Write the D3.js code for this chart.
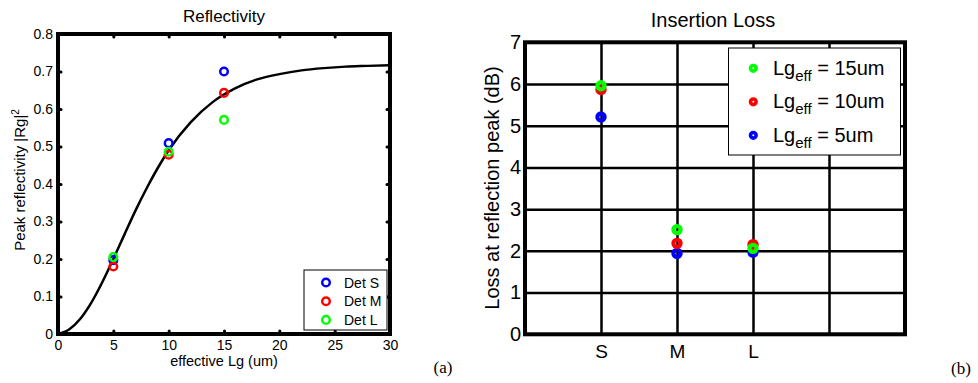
<!DOCTYPE html>
<html>
<head>
<meta charset="utf-8">
<script src="https://cdn.jsdelivr.net/npm/d3@7"></script>
<style>
  body { margin: 0; background: #fff; }
  svg { display: block; font-family: "Liberation Sans", Arial, sans-serif; }
</style>
</head>
<body>
<div id="chart"></div>
<script>
/// DATA: REFLECTIVITY (a) ///
const lgValues = [5, 10, 15];
const detS = [0.197, 0.509, 0.700];
const detM = [0.180, 0.478, 0.643];
const detL = [0.205, 0.486, 0.571];
const reflSeries = ["Det S", "Det M", "Det L"];
const reflColors = ["#0000ff", "#ff0000", "#00ff00"];

// black curve
const curveLg = [0, 1, 2, 3, 4, 5, 6, 7, 8, 9, 10, 12, 14, 16, 18, 20, 22, 24, 26, 28, 30];
const curveR = [0, 0.012, 0.040, 0.083, 0.138, 0.200, 0.265, 0.329, 0.388, 0.442, 0.490,
  0.565, 0.619, 0.655, 0.679, 0.693, 0.703, 0.709, 0.713, 0.715, 0.717];

const reflXTicks = [0, 5, 10, 15, 20, 25, 30];
const reflYTicks = [0, 0.1, 0.2, 0.3, 0.4, 0.5, 0.6, 0.7, 0.8];

/// DATA: INSERTION LOSS (b) ///
const detectors = ["S", "M", "L"];
const loss5 = [5.21, 1.94, 1.97];
const loss10 = [5.87, 2.18, 2.15];
const loss15 = [5.96, 2.51, 2.06];
const lossLegend = ["15um", "10um", "5um"];
const lossYTicks = [0, 1, 2, 3, 4, 5, 6, 7];

const width = 978;
const height = 383;

const svg = d3
  .select("#chart")
  .append("svg")
  .attr("width", width)
  .attr("height", height);

// ---------- (a) Reflectivity ----------
const xRefl = d3.scaleLinear().domain([0, 30]).range([58, 390]);
const yRefl = d3.scaleLinear().domain([0, 0.8]).range([334, 34]);

const refl = svg.append("g");

function styleAxis(g, size) {
  g.select(".domain").remove();
  g.selectAll(".tick line")
    .attr("stroke", "#000")
    .attr("stroke-width", 3)
    .attr("stroke-linecap", "round");
  g.selectAll(".tick text").attr("fill", "#000").style("font-size", size + "px");
}

refl
  .append("g")
  .attr("transform", `translate(0,${yRefl(0)})`)
  .call(d3.axisBottom(xRefl).tickValues(reflXTicks).tickSize(-3).tickPadding(6))
  .call((g) => styleAxis(g, 14));

refl
  .append("g")
  .attr("transform", `translate(0,${yRefl(0.8)})`)
  .call(d3.axisTop(xRefl).tickValues(reflXTicks).tickSize(-3).tickFormat(""))
  .call((g) => styleAxis(g, 14));

refl
  .append("g")
  .attr("transform", `translate(${xRefl(0)},0)`)
  .call(d3.axisLeft(yRefl).tickValues(reflYTicks).tickSize(-3).tickPadding(5).tickFormat((d) => (d === 0 ? "0" : d3.format(".1f")(d))))
  .call((g) => styleAxis(g, 14));

refl
  .append("g")
  .attr("transform", `translate(${xRefl(30)},0)`)
  .call(d3.axisRight(yRefl).tickValues(reflYTicks).tickSize(-3).tickFormat(""))
  .call((g) => styleAxis(g, 14));

// curve
refl
  .append("path")
  .datum(curveLg.map((d, i) => [d, curveR[i]]))
  .attr("fill", "none")
  .attr("stroke", "#000")
  .attr("stroke-width", 2.5)
  .attr("d", d3.line().x((d) => xRefl(d[0])).y((d) => yRefl(d[1])).curve(d3.curveMonotoneX));

// markers
[detS, detM, detL].forEach((vals, k) => {
  refl
    .selectAll(".m" + k)
    .data(vals)
    .enter()
    .append("circle")
    .attr("cx", (d, i) => xRefl(lgValues[i]))
    .attr("cy", (d) => yRefl(d))
    .attr("r", 3.8)
    .attr("fill", "none")
    .attr("stroke", reflColors[k])
    .attr("stroke-width", 2.5);
});

// box
refl
  .append("rect")
  .attr("x", xRefl(0))
  .attr("y", yRefl(0.8))
  .attr("width", xRefl(30) - xRefl(0))
  .attr("height", yRefl(0) - yRefl(0.8))
  .attr("fill", "none")
  .attr("stroke", "#000")
  .attr("stroke-width", 4);

// legend
const reflLeg = refl.append("g");
reflLeg
  .append("rect")
  .attr("x", 304)
  .attr("y", 270)
  .attr("width", 83)
  .attr("height", 60)
  .attr("fill", "#fff")
  .attr("stroke", "#000")
  .attr("stroke-width", 1);
reflSeries.forEach((name, k) => {
  const y = 282.5 + k * 18.7;
  reflLeg
    .append("circle")
    .attr("cx", 326)
    .attr("cy", y)
    .attr("r", 3.8)
    .attr("fill", "none")
    .attr("stroke", reflColors[k])
    .attr("stroke-width", 2.5);
  reflLeg
    .append("text")
    .attr("x", 344)
    .attr("y", y + 5)
    .style("font-size", "14px")
    .text(name);
});

// titles
refl
  .append("text")
  .attr("x", 224)
  .attr("y", 22)
  .attr("text-anchor", "middle")
  .style("font-size", "17px")
  .text("Reflectivity");

refl
  .append("text")
  .attr("x", 224)
  .attr("y", 366)
  .attr("text-anchor", "middle")
  .style("font-size", "14.5px")
  .text("effective Lg (um)");

const yLabA = refl
  .append("text")
  .attr("transform", "translate(25,180) rotate(-90)")
  .attr("text-anchor", "middle")
  .style("font-size", "15px");
yLabA.append("tspan").text("Peak reflectivity |Rg|");
yLabA.append("tspan").attr("dy", -6).style("font-size", "10px").text("2");

svg
  .append("text")
  .attr("x", 443)
  .attr("y", 373)
  .attr("text-anchor", "middle")
  .style("font-family", "'Liberation Serif', 'Times New Roman', serif")
  .style("font-size", "17px")
  .text("(a)");

// ---------- (b) Insertion Loss ----------
const xLoss = d3.scaleLinear().domain([0, 5]).range([525, 905]);
const yLoss = d3.scaleLinear().domain([0, 7]).range([334.3, 42.3]);
const plotH = yLoss(0) - yLoss(7);
const plotW = xLoss(5) - xLoss(0);
const xTickVals = [1, 2, 3, 4];
const xTickLabels = detectors.concat([""]);

const loss = svg.append("g");

function styleGrid(g, size) {
  g.select(".domain").remove();
  g.selectAll(".tick line").attr("stroke", "#000").attr("stroke-width", 2.5);
  g.selectAll(".tick text").attr("fill", "#000").style("font-size", size + "px");
}

loss
  .append("g")
  .attr("transform", `translate(0,${yLoss(0)})`)
  .call(d3.axisBottom(xLoss).tickValues(xTickVals).tickSize(-plotH).tickPadding(10).tickFormat((d) => xTickLabels[d - 1]))
  .call((g) => styleGrid(g, 19));

loss
  .append("g")
  .attr("transform", `translate(${xLoss(0)},0)`)
  .call(d3.axisLeft(yLoss).tickValues(lossYTicks).tickSize(-plotW).tickPadding(4).tickFormat(d3.format("d")))
  .call((g) => styleGrid(g, 20));

// markers: ring with thick stroke
const lossColors = { 5: "#0000ff", 10: "#ff0000", 15: "#00ff00" };
[[loss5, 5], [loss10, 10], [loss15, 15]].forEach(([vals, key]) => {
  loss
    .selectAll(".l" + key)
    .data(vals)
    .enter()
    .append("circle")
    .attr("cx", (d, i) => xLoss(i + 1))
    .attr("cy", (d) => yLoss(d))
    .attr("r", 3.6)
    .attr("fill", "none")
    .attr("stroke", lossColors[key])
    .attr("stroke-width", 4.2);
});

loss
  .append("rect")
  .attr("x", xLoss(0))
  .attr("y", yLoss(7))
  .attr("width", plotW)
  .attr("height", plotH)
  .attr("fill", "none")
  .attr("stroke", "#000")
  .attr("stroke-width", 4);

// legend
const lossLeg = loss.append("g");
lossLeg
  .append("rect")
  .attr("x", 728.5)
  .attr("y", 48)
  .attr("width", 172)
  .attr("height", 107)
  .attr("fill", "#fff")
  .attr("stroke", "#000")
  .attr("stroke-width", 1);
lossLegend.forEach((name, k) => {
  const y = 68.3 + k * 33.5;
  const key = [15, 10, 5][k];
  lossLeg
    .append("circle")
    .attr("cx", 753.3)
    .attr("cy", y)
    .attr("r", 2.8)
    .attr("fill", "#fff")
    .attr("stroke", lossColors[key])
    .attr("stroke-width", 3.6);
  const t = lossLeg
    .append("text")
    .attr("x", 773)
    .attr("y", y + 6.5)
    .style("font-size", "20px");
  t.append("tspan").text("Lg");
  t.append("tspan").attr("dy", 6).style("font-size", "15px").text("eff");
  t.append("tspan").attr("dy", -6).text(" = " + name);
});

loss
  .append("text")
  .attr("x", 713)
  .attr("y", 27)
  .attr("text-anchor", "middle")
  .style("font-size", "20px")
  .text("Insertion Loss");

loss
  .append("text")
  .attr("transform", "translate(499,188) rotate(-90)")
  .attr("text-anchor", "middle")
  .style("font-size", "20px")
  .text("Loss at reflection peak (dB)");

svg
  .append("text")
  .attr("x", 961)
  .attr("y", 374)
  .attr("text-anchor", "middle")
  .style("font-family", "'Liberation Serif', 'Times New Roman', serif")
  .style("font-size", "17px")
  .text("(b)");
</script>
</body>
</html>
